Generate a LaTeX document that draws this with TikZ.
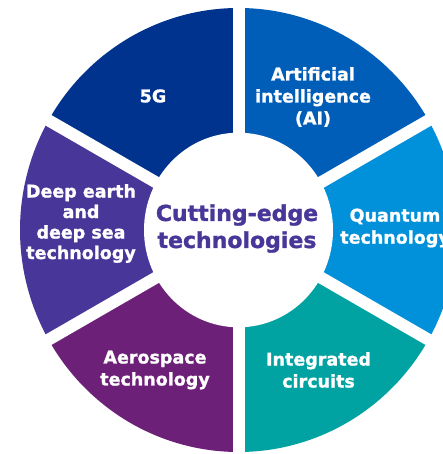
\documentclass[tikz,border=0pt]{standalone}
\usepackage{fontspec}
\setmainfont{DejaVu Sans}[BoldFeatures={FakeBold=1.3}]
\usetikzlibrary{calc}
\definecolor{cfive}{HTML}{00338D}
\definecolor{cai}{HTML}{005EB8}
\definecolor{cquant}{HTML}{0091DA}
\definecolor{cic}{HTML}{00A3A1}
\definecolor{caero}{HTML}{6D2077}
\definecolor{cdeep}{HTML}{483698}
\tikzset{
  seglabel/.style={text=white, font=\fontsize{17.5}{22}\selectfont\bfseries, align=center, inner sep=0pt},
  centerlabel/.style={text=cdeep, font=\fontsize{22}{27}\selectfont\bfseries, align=center, inner sep=0pt},
  gapline/.style={white, line width=12pt}
}
\begin{document}
\begin{tikzpicture}[x=1pt,y=1pt]
\useasboundingbox (0,0) rectangle (443,454);
\clip (0,0) rectangle (443,454);
\fill[white] (0,0) rectangle (443,454);
\coordinate (C) at (238.5,224);
% sectors
\fill[cfive]  (C) -- ($(C)+(90:218.5 and 222)$)  arc[start angle=90,  end angle=150, x radius=218.5, y radius=222] -- cycle;
\fill[cai]    (C) -- ($(C)+(30:218.5 and 222)$)  arc[start angle=30,  end angle=90,  x radius=218.5, y radius=222] -- cycle;
\fill[cquant] (C) -- ($(C)+(-30:218.5 and 222)$) arc[start angle=-30, end angle=30,  x radius=218.5, y radius=222] -- cycle;
\fill[cic]    (C) -- ($(C)+(-90:218.5 and 222)$) arc[start angle=-90, end angle=-30, x radius=218.5, y radius=222] -- cycle;
\fill[caero]  (C) -- ($(C)+(-150:218.5 and 222)$) arc[start angle=-150, end angle=-90, x radius=218.5, y radius=222] -- cycle;
\fill[cdeep]  (C) -- ($(C)+(150:218.5 and 222)$) arc[start angle=150, end angle=210, x radius=218.5, y radius=222] -- cycle;
% gaps
\foreach \a in {90,30,-30,-90,-150,150}
  \draw[gapline] (C) -- ++(\a:250);
% inner hole
\fill[white] (C) ellipse[x radius=94.5, y radius=97.3];
% labels
\node[seglabel] (n5g) at (153,358) {5G};
\node[seglabel] (nai) at (313,357) {Artificial\\intelligence\\(AI)};
\node[seglabel] (nquant) at (395,226) {Quantum\\technology};
\node[seglabel, font=\fontsize{17.5}{20.5}\selectfont\bfseries] (ndeep) at (81,230.5) {Deep earth\\and\\deep sea\\technology};
\node[seglabel] (naero) at (155,84) {Aerospace\\technology};
\node[seglabel] (nic) at (318.5,84) {Integrated\\circuits};
\node[centerlabel] (ncenter) at (237,225.5) {Cutting-edge\\technologies};
\end{tikzpicture}
\end{document}
